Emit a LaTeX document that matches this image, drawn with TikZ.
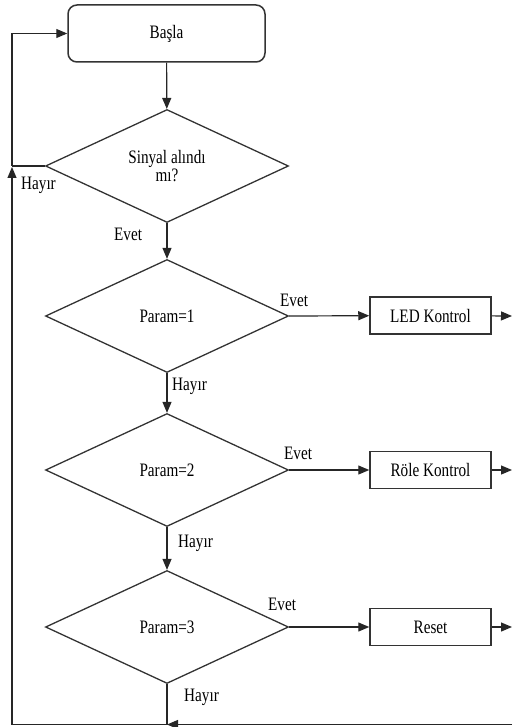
\documentclass[tikz,border=0pt]{standalone}
\usepackage{fontspec}
\setmainfont[FakeStretch=0.8]{Liberation Serif}
\usetikzlibrary{shapes.geometric,arrows.meta}
\begin{document}
\begin{tikzpicture}[x=1pt,y=-1pt,
  ln/.style={draw=black!85,line width=1.2pt},
  arr/.style={ln,-{Triangle[length=11pt,width=9pt]}},
  dia/.style={diamond,draw=black!80,line width=1.3pt,inner sep=0pt,minimum width=243pt,minimum height=113pt,font=\fontsize{19}{20}\selectfont,align=center},
  boxx/.style={rectangle,draw=black!80,line width=1.5pt,inner sep=0pt,minimum width=121pt,minimum height=37pt,font=\fontsize{19}{20}\selectfont},
  lbl/.style={font=\fontsize{19}{20}\selectfont,inner sep=0pt}]
\useasboundingbox (0,0) rectangle (512,727);
\clip (0,0) rectangle (512,727);
\node[rectangle,rounded corners=9pt,draw=black!80,line width=1.5pt,minimum width=197pt,minimum height=57pt,inner sep=0pt,font=\fontsize{19}{20}\selectfont] (start) at (166.5,33.5) {Başla};
\node[dia] (d1) at (167,166) {Sinyal alındı\\[-2pt]mı?};
\node[dia] (d2) at (167,316) {Param=1};
\node[dia] (d3) at (167,470) {Param=2};
\node[dia] (d4) at (167,627) {Param=3};
\node[boxx] (b1) at (430.5,315.5) {LED Kontrol};
\node[boxx] (b2) at (430.5,470) {Röle Kontrol};
\node[boxx] (b3) at (430.5,627) {Reset};
\coordinate (o1) at (512,316);
\coordinate (o2) at (512,470);
\coordinate (o3) at (512,627);
\coordinate (rb) at (512,724.5);
\coordinate (jb) at (167,724.5);
\coordinate (lb) at (12,724.5);
\coordinate (lu) at (12,167);
\coordinate (lt) at (12,33.5);
\coordinate (ll) at (12,166);
\draw[arr] (start) -- (d1);
\draw[arr] (d1) -- (d2);
\draw[arr] (d2) -- (d3);
\draw[arr] (d3) -- (d4);
\draw[arr] (d2.east) -- (b1);
\draw[arr] (d3.east) -- (b2);
\draw[arr] (d4.east) -- (b3);
\draw[arr] (b1) -- (o1);
\draw[arr] (b2) -- (o2);
\draw[arr] (b3) -- (o3);
\draw[ln] (d4.south) -- (jb);
\draw[arr] (rb) -- (jb);
\draw[arr] (jb) -- (lb) -- (lu);
\draw[ln] (d1.west) -- (ll);
\draw[arr] (ll) -- (lt) -- (start.west);
\node[lbl,anchor=west] (h1) at (21,185) {Hayır};
\node[lbl,anchor=west] (e1) at (114,234) {Evet};
\node[lbl,anchor=west] (e2) at (280,300) {Evet};
\node[lbl,anchor=west] (h2) at (172,386) {Hayır};
\node[lbl,anchor=west] (e3) at (284,453) {Evet};
\node[lbl,anchor=west] (h3) at (178,543) {Hayır};
\node[lbl,anchor=west] (e4) at (268,604) {Evet};
\node[lbl,anchor=west] (h4) at (184,697) {Hayır};
\end{tikzpicture}
\end{document}
